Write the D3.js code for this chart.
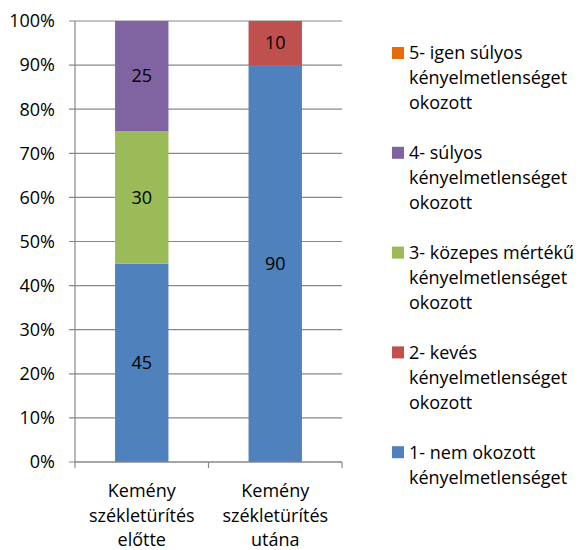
<!DOCTYPE html>
<html><head><meta charset="utf-8">
<script src="https://cdn.jsdelivr.net/npm/d3@7"></script>
<style>body{margin:0;background:#fff}svg{display:block}text{font-family:"Open Sans",sans-serif;fill:#000}</style>
</head><body>
<svg id="c" width="582" height="550"></svg>
<script>
const categories = [["Kemény","székletürítés","előtte"],["Kemény","székletürítés","utána"]];
const seriesNames = [
  "1- nem okozott kényelmetlenséget",
  "2- kevés kényelmetlenséget okozott",
  "3- közepes mértékű kényelmetlenséget okozott",
  "4- súlyos kényelmetlenséget okozott",
  "5- igen súlyos kényelmetlenséget okozott"
];
const legendLines = [
  ["1- nem okozott","kényelmetlenséget"],
  ["2- kevés","kényelmetlenséget","okozott"],
  ["3- közepes mértékű","kényelmetlenséget","okozott"],
  ["4- súlyos","kényelmetlenséget","okozott"],
  ["5- igen súlyos","kényelmetlenséget","okozott"]
];
const colors = ["#4F81BD","#C0504D","#9BBB59","#8064A2","#E46C0A"];
const s1 = [45, 90];
const s2 = [0, 10];
const s3 = [30, 0];
const s4 = [25, 0];
const s5 = [0, 0];
const values = [s1,s2,s3,s4,s5];
const yTicks = [0,0.1,0.2,0.3,0.4,0.5,0.6,0.7,0.8,0.9,1];

const svg = d3.select("#c");
const L = 75, R = 342, T = 21, B = 462;
const FS = 18;
const x = d3.scaleBand().domain([0,1]).range([L,R]).paddingInner(0.6).paddingOuter(0.3);
const y = d3.scaleLinear().domain([0,1]).range([B,T]);

// gridlines
svg.append("g").selectAll("line").data(yTicks).join("line")
  .attr("x1",L-6).attr("x2",R).attr("y1",d=>y(d)).attr("y2",d=>y(d))
  .attr("stroke","#888").attr("stroke-width",1.2);
// y labels
svg.append("g").selectAll("text").data(yTicks).join("text")
  .attr("x",55).attr("y",d=>y(d)).attr("dy","0.35em").attr("text-anchor","end")
  .attr("font-size",FS).text(d=>d3.format(".0%")(d));

// stack
const totals = [0,1].map(i=>d3.sum(values,s=>s[i]));
[0,1].forEach(i=>{
  let acc=0;
  values.forEach((s,k)=>{
    const v=s[i]/totals[i];
    if(v>0){
      const y0=y(acc), y1=y(acc+v);
      svg.append("rect").attr("x",x(i)).attr("width",x.bandwidth())
        .attr("y",y1).attr("height",y0-y1).attr("fill",colors[k]);
      svg.append("text").attr("x",x(i)+x.bandwidth()/2).attr("y",(y0+y1)/2).attr("dy","0.35em")
        .attr("text-anchor","middle").attr("font-size",FS).text(s[i]);
    }
    acc+=v;
  });
});

// axes lines
svg.append("line").attr("x1",L).attr("x2",L).attr("y1",T).attr("y2",B).attr("stroke","#888").attr("stroke-width",1.2);
svg.append("line").attr("x1",L).attr("x2",R).attr("y1",B).attr("y2",B).attr("stroke","#888").attr("stroke-width",1.2);
const catEdges=[L,(L+R)/2,R];
svg.append("g").selectAll("line").data(catEdges).join("line")
  .attr("x1",d=>d).attr("x2",d=>d).attr("y1",B).attr("y2",B+6).attr("stroke","#888").attr("stroke-width",1.2);
// category labels
categories.forEach((lines,i)=>{
  const t=svg.append("text").attr("text-anchor","middle").attr("font-size",FS);
  lines.forEach((ln,j)=>t.append("tspan").attr("x",x(i)+x.bandwidth()/2).attr("y",491+j*24.5).attr("dy","0.35em").text(ln));
});

// legend (reverse order)
const order=[4,3,2,1,0];
order.forEach((k,idx)=>{
  const gy=53+idx*99.8;
  svg.append("rect").attr("x",392).attr("y",gy-6).attr("width",12).attr("height",12).attr("fill",colors[k]);
  const t=svg.append("text").attr("font-size",FS);
  legendLines[k].forEach((ln,j)=>t.append("tspan").attr("x",409).attr("y",gy+j*25).attr("dy","0.35em").text(ln));
});
</script>
</body></html>
